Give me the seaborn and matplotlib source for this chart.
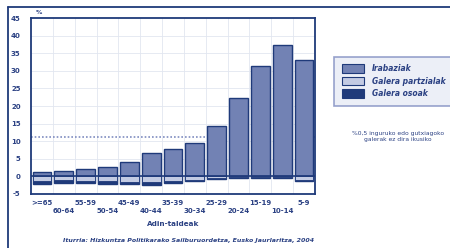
import numpy as np
import pandas as pd
import matplotlib
matplotlib.use("Agg")
import matplotlib.pyplot as plt
import seaborn as sns
from matplotlib.patches import Patch

# ── data ──
age_groups = [">=65", "60-64", "55-59", "50-54", "45-49", "40-44", "35-39",
              "30-34", "25-29", "20-24", "15-19", "10-14", "5-9"]
gains   = [1.3, 1.5, 2.0, 2.7, 4.1, 6.5, 7.9, 9.6, 14.4, 22.4, 31.3, 37.4, 33.0]
partial = [1.2, 1.1, 1.2, 1.4, 1.5, 1.7, 1.4, 0.9, 0.5, 0.2, 0.2, 0.2, 1.0]
total   = [1.0, 0.8, 0.8, 0.7, 0.8, 0.7, 0.6, 0.4, 0.3, 0.3, 0.3, 0.4, 0.4]
ref_line = 11.2
y_ticks = [-5, 0, 5, 10, 15, 20, 25, 30, 35, 40, 45]

navy  = "#1f3a7a"
mid   = "#7282b4"
light = "#c3cbe3"
txt   = "#2b4183"

df = pd.DataFrame({"age": age_groups, "gain": gains,
                   "loss_all": [-(p + t) for p, t in zip(partial, total)],
                   "loss_part": [-p for p in partial]})

sns.set_style("white")
plt.rcParams["font.family"] = ["DejaVu Sans"]

fig = plt.figure(figsize=(4.5, 2.48), dpi=100)
ax = fig.add_axes([0.069, 0.218, 0.631, 0.709])

bw = 0.86
sns.barplot(data=df, x="age", y="gain", color=mid, width=bw, saturation=1,
            edgecolor=navy, linewidth=1.0, ax=ax, zorder=3)
sns.barplot(data=df, x="age", y="loss_all", color=navy, width=bw, saturation=1,
            edgecolor=navy, linewidth=1.0, ax=ax, zorder=3)
sns.barplot(data=df, x="age", y="loss_part", color=light, width=bw, saturation=1,
            edgecolor=navy, linewidth=0.6, ax=ax, zorder=4)

ax.axhline(0, color=navy, lw=1.2, zorder=5)
ax.axhline(ref_line, color="#7f8cc0", lw=1.2, ls=(0, (1, 1.2)), zorder=2)

ax.set_xlim(-0.5, len(age_groups) - 0.5)
ax.set_ylim(-5, 45)
ax.set_yticks(y_ticks)
ax.set_yticklabels([str(v) for v in y_ticks], fontsize=5, fontweight="bold", color=txt)
ax.set_xticks(range(len(age_groups)))
ax.set_xticklabels([a if i % 2 == 0 else "\n" + a for i, a in enumerate(age_groups)],
                   fontsize=5, fontweight="bold", color=txt, linespacing=1.45)
ax.tick_params(axis="both", length=2.5, width=0.8, color=navy, pad=2)
ax.tick_params(axis="y", pad=5)

# grid
for v in y_ticks[1:-1]:
    ax.axhline(v, color="#e2e6f0", lw=0.6, zorder=0)
for i in range(len(age_groups) - 1):
    ax.axvline(i + 0.5, color="#e2e6f0", lw=0.6, zorder=0)

for s in ax.spines.values():
    s.set_color(navy)
    s.set_linewidth(1.3)

ax.set_xlabel("Adin-taldeak", fontsize=5.2, fontweight="bold", color=txt, labelpad=5)
ax.set_ylabel("")
ax.text(-0.3, 46.2, "%", fontsize=4.5, fontweight="bold", color=txt)

# legend
handles = [Patch(facecolor=mid, edgecolor=navy, lw=0.8, label="Irabaziak"),
           Patch(facecolor=light, edgecolor=navy, lw=0.8, label="Galera partzialak"),
           Patch(facecolor=navy, edgecolor=navy, lw=0.8, label="Galera osoak")]
leg = fig.legend(handles=handles, loc="upper left", bbox_to_anchor=(0.742, 0.772),
                 frameon=True, fancybox=False,
                 prop={"style": "italic", "weight": "bold", "size": 5.5},
                 handlelength=3.0, handleheight=1.4, borderpad=1.0, labelspacing=0.45,
                 handletextpad=1.0, borderaxespad=0)
leg.get_frame().set_facecolor("#e8ecf5")
leg.get_frame().set_edgecolor("#7f8cc0")
leg.get_frame().set_linewidth(1.2)
for t in leg.get_texts():
    t.set_color(txt)

fig.text(0.885, 0.45, "%0,5 inguruko edo gutxiagoko\ngalerak ez dira ikusiko",
         ha="center", va="center", fontsize=4.3, color=txt, linespacing=1.2)

fig.text(0.42, 0.03, "Iturria: Hizkuntza Politikarako Sailburuordetza, Eusko Jaurlaritza, 2004",
         ha="center", va="center", fontsize=4.5, style="italic", fontweight="bold", color=txt)

# outer frame (left and top edges visible)
fig.add_artist(plt.Line2D([0.018, 0.018], [0.0, 0.972], color=navy, lw=1.3))
fig.add_artist(plt.Line2D([0.018, 1.0], [0.972, 0.972], color=navy, lw=1.3))

fig.savefig("out.png", dpi=100)
